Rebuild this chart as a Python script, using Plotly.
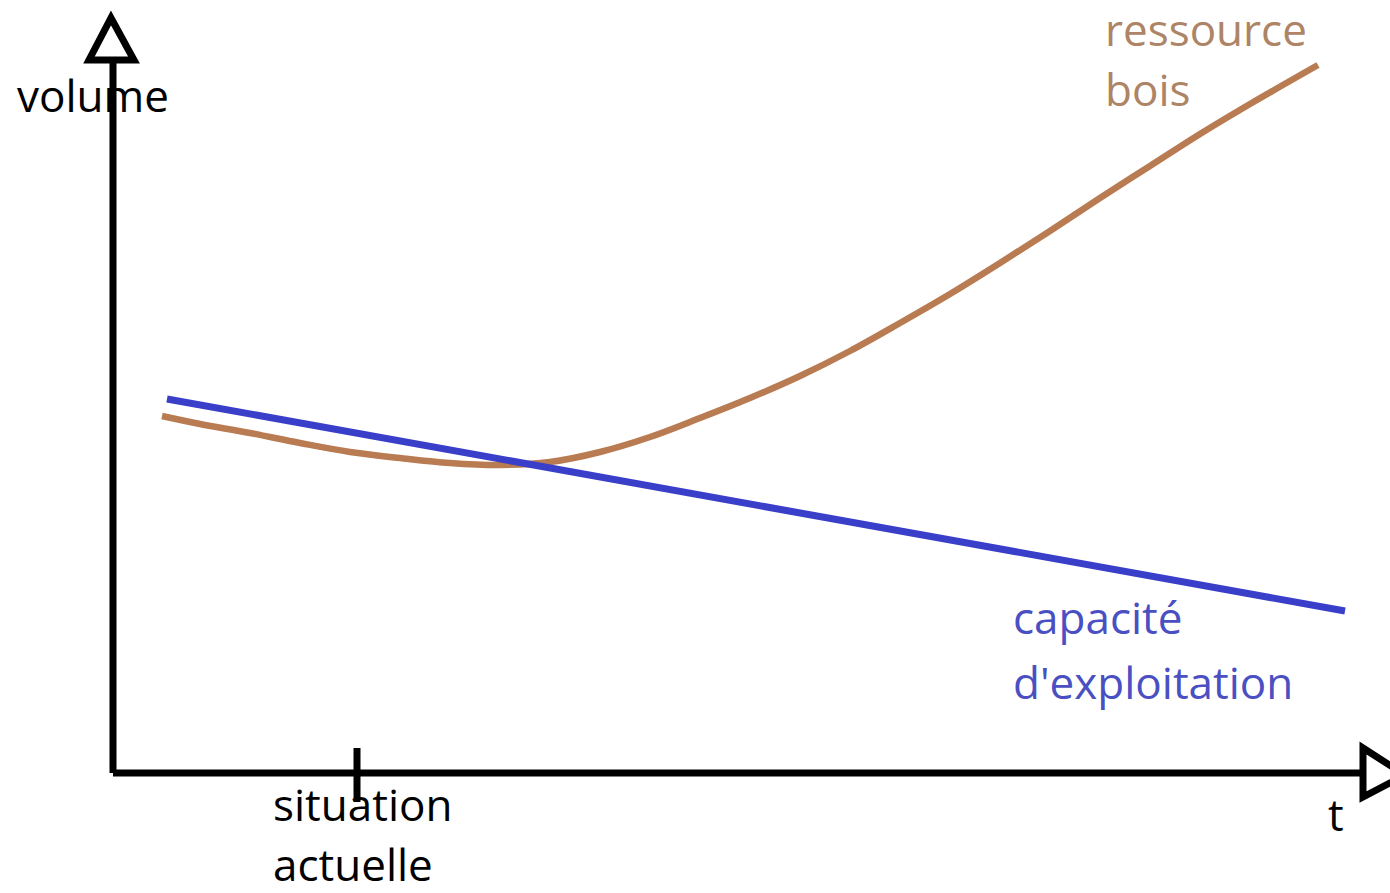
import plotly.graph_objects as go

# ── Data (t = time, volume upward) ─────────────────────────────────────────────
wood_t = [162, 200, 250, 300, 350, 400, 450, 500, 550, 600, 650, 700, 750, 800,
          850, 900, 950, 1000, 1050, 1100, 1150, 1200, 1250, 1318]
wood_volume = [477, 469, 460, 450, 441, 435, 430, 428, 431, 441, 456, 475, 495,
               517, 542, 570, 599, 630, 662, 695, 727, 759, 789, 828]

capacity_t = [167, 1345]
capacity_volume = [494, 282]

now_t = 357

BROWN = "#b97b52"
BROWN_TEXT = "#ad8466"
BLUE = "#3a3fc9"
BLUE_TEXT = "#4a4fc2"
FONT = "Open Sans"

fig = go.Figure()

fig.add_trace(go.Scatter(
    x=wood_t, y=wood_volume, mode="lines",
    line=dict(color=BROWN, width=6.5, shape="spline", smoothing=1),
    hoverinfo="skip",
))
fig.add_trace(go.Scatter(
    x=capacity_t, y=capacity_volume, mode="lines",
    line=dict(color=BLUE, width=7),
    hoverinfo="skip",
))

# ── Hand-drawn axes with open arrow heads ──────────────────────────────────────
axis = dict(color="black", width=7)
fig.add_shape(type="line", x0=113, y0=120, x1=113, y1=833, line=axis)
fig.add_shape(type="line", x0=113, y0=120, x1=1362, y1=120, line=axis)
fig.add_shape(type="path", path="M 89 833 L 134 833 L 111 875 Z",
              line=axis, fillcolor="white")
fig.add_shape(type="path", path="M 1363 145 L 1363 96 L 1405 118 Z",
              line=axis, fillcolor="white")
fig.add_shape(type="line", x0=now_t, y0=91, x1=now_t, y1=145, line=axis)

# ── Labels ─────────────────────────────────────────────────────────────────────
labels = [
    ("volume", 15, 798, "black"),
    ("ressource", 1103, 864, BROWN_TEXT),
    ("bois", 1103, 804, BROWN_TEXT),
    ("capacité", 1011, 276, BLUE_TEXT),
    ("d'exploitation", 1011, 211, BLUE_TEXT),
    ("situation", 271, 89, "black"),
    ("actuelle", 271, 29, "black"),
    ("t", 1326, 79, "black"),
]
for text, x, y, color in labels:
    fig.add_annotation(
        text=text, x=x, y=y, xanchor="left", yanchor="middle",
        showarrow=False, font=dict(family=FONT, size=44, color=color),
    )

fig.update_layout(
    width=1390, height=893,
    margin=dict(l=0, r=0, t=0, b=0),
    paper_bgcolor="white", plot_bgcolor="white",
    showlegend=False,
    xaxis=dict(range=[0, 1390], visible=False, fixedrange=True),
    yaxis=dict(range=[0, 893], visible=False, fixedrange=True),
)

# drop the default page margin so the figure sits at the window corner
fig.write_html(
    "out.html",
    config={"displayModeBar": False},
    post_script="document.body.style.margin = '0';",
)
